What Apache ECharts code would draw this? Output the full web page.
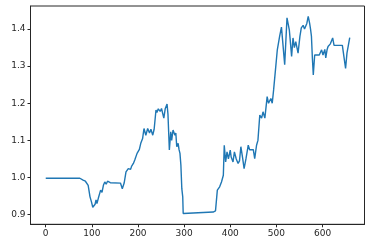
<!DOCTYPE html>
<html>
<head>
<meta charset="utf-8">
<script src="https://cdn.jsdelivr.net/npm/echarts@6/dist/echarts.min.js"></script>
<style>html,body{margin:0;padding:0;background:#fff}#c{width:372px;height:248px}</style>
</head>
<body>
<div id="c"></div>
<script>
const steps = [0,74,78,81,84,86,89,92,96,99,102,105,107,109,111,114,116,119,122,125,128,131,134,138,140,162,166,170,174,179,182,184,186,188,190,193,198,203,206,210,213,217,221,225,228,232,235,239,241,244,248,251,253,256,259,261,263,265,268,271,273,276,280,282,284,287,289,291,293,295,297,298,300,363,365,368,372,375,377,381,385,387,390,393,396,400,402,404,406,409,413,417,420,423,427,430,434,439,442,445,450,453,457,460,464,468,471,475,480,483,488,491,494,498,502,507,511,513,518,523,528,530,533,536,539,542,547,551,554,558,561,564,566,569,572,574,576,578,580,583,586,593,598,601,605,607,610,612,617,620,622,625,643,647,650,653,656,659];
const values = [0.998,0.998,0.997,0.993,0.995,0.990,0.993,0.979,0.948,0.935,0.920,0.916,0.928,0.940,0.930,0.944,0.940,0.966,0.960,0.979,0.988,0.982,0.990,0.995,0.986,0.985,0.970,0.985,1.015,1.024,1.028,1.022,1.030,1.026,1.038,1.047,1.065,1.076,1.092,1.105,1.132,1.114,1.132,1.120,1.130,1.114,1.130,1.182,1.175,1.185,1.178,1.186,1.190,1.160,1.185,1.180,1.198,1.170,1.074,1.123,1.100,1.128,1.114,1.120,1.083,1.092,1.075,1.065,1.033,0.970,0.948,0.903,0.907,0.907,0.903,0.910,0.966,0.970,0.975,0.988,1.006,1.087,1.042,1.069,1.050,1.074,1.055,1.060,1.042,1.069,1.050,1.038,1.045,1.083,1.051,1.024,1.050,1.087,1.075,1.078,1.075,1.051,1.087,1.100,1.168,1.160,1.177,1.160,1.218,1.200,1.213,1.200,1.236,1.290,1.344,1.380,1.405,1.376,1.304,1.430,1.398,1.370,1.326,1.376,1.350,1.366,1.335,1.380,1.403,1.410,1.400,1.405,1.415,1.434,1.416,1.400,1.380,1.322,1.276,1.330,1.330,1.330,1.344,1.330,1.345,1.322,1.345,1.353,1.360,1.355,1.376,1.356,1.356,1.320,1.294,1.335,1.340,1.377];
const xTicks = [0,100,200,300,400,500,600];
const yTicks = [0.9,1.0,1.1,1.2,1.3,1.4];

const chart = echarts.init(document.getElementById('c'), null, {renderer:'canvas'});
const font = {fontFamily:'DejaVu Sans', fontSize:9, color:'#262626'};
chart.setOption({
  animation:false,
  grid:{left:30.5, right:7.5, top:6, bottom:23.7, show:true, borderColor:'#262626', borderWidth:1, backgroundColor:'transparent'},
  xAxis:{type:'value', min:-33, max:691,
    axisLine:{show:true, onZero:false, lineStyle:{color:'#262626', width:1}},
    axisTick:{show:true, length:3, customValues:xTicks, lineStyle:{color:'#262626'}},
    axisLabel:Object.assign({margin:5, customValues:xTicks, formatter:v=>String(v)}, font),
    splitLine:{show:false}},
  yAxis:{type:'value', min:0.874, max:1.462,
    axisLine:{show:true, onZero:false, lineStyle:{color:'#262626', width:1}},
    axisTick:{show:true, length:3, customValues:yTicks, lineStyle:{color:'#262626'}},
    axisLabel:Object.assign({margin:5, customValues:yTicks, formatter:v=>Number(v).toFixed(1)}, font),
    splitLine:{show:false}},
  series:[{type:'line', data:steps.map((t,i)=>[t,values[i]]), showSymbol:false, symbol:'none',
    lineStyle:{color:'#1f77b4', width:1.4}}]
});
</script>
</body>
</html>
